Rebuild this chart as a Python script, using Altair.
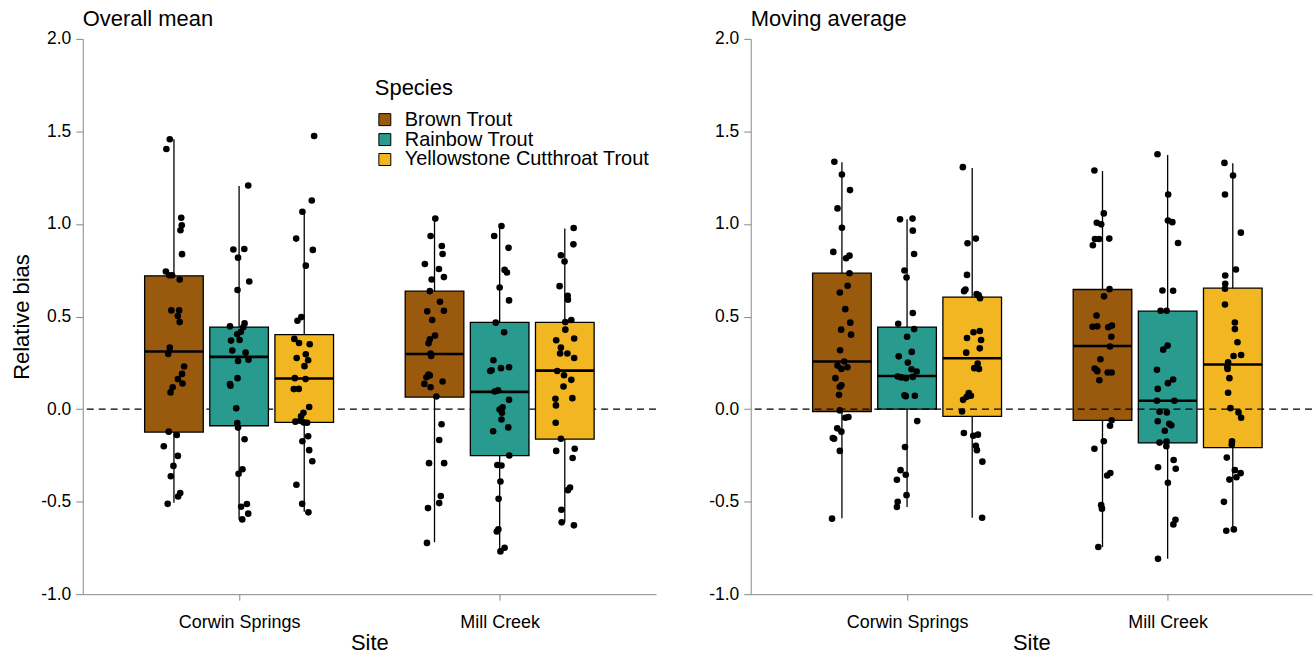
import altair as alt
import pandas as pd

sites = ["Corwin Springs", "Mill Creek"]
species = ["Brown Trout", "Rainbow Trout", "Yellowstone Cutthroat Trout"]
species_colors = ["#995A0D", "#289B8E", "#F2B622"]
panel_titles = ["Overall mean", "Moving average"]

# box statistics, order: panel -> site -> species
box_lower = [-0.506, -0.596, -0.555, -0.720, -0.769, -0.612,
             -0.590, -0.529, -0.587, -0.745, -0.809, -0.653]
box_q1 = [-0.124, -0.090, -0.072, 0.065, -0.251, -0.162,
          -0.013, 0.000, -0.039, -0.061, -0.183, -0.208]
box_median = [0.311, 0.282, 0.165, 0.298, 0.093, 0.208,
              0.257, 0.179, 0.275, 0.341, 0.045, 0.241]
box_q3 = [0.720, 0.443, 0.402, 0.637, 0.468, 0.468,
          0.734, 0.443, 0.605, 0.646, 0.529, 0.653]
box_upper = [1.458, 1.205, 1.059, 1.029, 0.989, 0.975,
             1.334, 1.025, 1.303, 1.286, 1.373, 1.328]

# individual relative-bias values and their horizontal jitter
om_cs_bt = [1.458, 1.405, 1.034, 0.993, 0.966, 0.837, 0.743, 0.723, 0.723, 0.700, 0.533, 0.533, 0.503, 0.470, 0.332, 0.298, 0.230, 0.190, 0.162, 0.138, 0.118, 0.090, -0.122, -0.140, -0.201, -0.253, -0.307, -0.363, -0.454, -0.472, -0.512]
om_cs_bt_j = [-0.016, -0.029, 0.028, 0.030, 0.025, 0.031, -0.031, -0.018, -0.007, 0.022, -0.010, 0.020, 0.015, 0.022, -0.016, -0.022, 0.039, 0.031, 0.015, 0.033, -0.005, -0.013, -0.020, 0.011, -0.039, 0.015, -0.002, -0.012, 0.024, 0.016, -0.024]
om_cs_rt = [1.208, 0.862, 0.865, 0.818, 0.689, 0.643, 0.447, 0.463, 0.442, 0.418, 0.404, 0.373, 0.370, 0.316, 0.305, 0.260, 0.267, 0.167, 0.135, 0.126, 0.004, -0.075, -0.100, -0.163, -0.325, -0.350, -0.513, -0.528, -0.565, -0.596]
om_cs_rt_j = [0.035, -0.022, 0.020, -0.004, 0.039, -0.006, -0.035, 0.021, 0.016, 0.007, -0.007, 0.002, -0.031, -0.026, 0.025, -0.004, 0.036, -0.006, -0.035, -0.033, -0.011, -0.007, -0.004, 0.021, 0.013, -0.002, 0.030, 0.008, 0.035, 0.012]
om_cs_yct = [1.475, 1.127, 1.066, 0.921, 0.860, 0.775, 0.497, 0.477, 0.379, 0.357, 0.350, 0.296, 0.276, 0.264, 0.232, 0.167, 0.162, 0.108, 0.109, 0.011, -0.020, -0.039, -0.068, -0.063, -0.072, -0.074, -0.147, -0.174, -0.222, -0.282, -0.409, -0.512, -0.558]
om_cs_yct_j = [0.038, 0.029, -0.007, -0.031, 0.033, 0.006, -0.011, -0.026, -0.038, -0.020, 0.021, 0.006, -0.029, 0.015, 0.001, -0.036, 0.005, -0.040, -0.021, 0.019, -0.003, -0.012, -0.034, -0.016, -0.002, 0.011, 0.015, -0.007, 0.019, 0.031, -0.030, -0.008, 0.016]
om_mc_bt = [1.029, 0.935, 0.881, 0.838, 0.784, 0.757, 0.713, 0.700, 0.637, 0.580, 0.528, 0.531, 0.481, 0.397, 0.377, 0.355, 0.300, 0.287, 0.187, 0.181, 0.172, 0.149, 0.136, 0.118, 0.068, -0.082, -0.167, -0.292, -0.292, -0.470, -0.508, -0.535, -0.723]
om_mc_bt_j = [0.003, -0.015, 0.028, 0.031, -0.037, 0.017, 0.036, -0.011, -0.018, 0.021, -0.028, 0.036, -0.009, 0.002, -0.018, -0.023, -0.015, -0.013, -0.023, -0.018, -0.031, 0.031, -0.039, -0.015, 0.007, 0.027, 0.018, -0.021, 0.037, 0.024, 0.018, -0.025, -0.029]
om_mc_rt = [0.989, 0.935, 0.871, 0.752, 0.738, 0.657, 0.587, 0.467, 0.415, 0.264, 0.210, 0.206, 0.221, 0.226, 0.095, 0.101, 0.050, 0.009, -0.002, -0.020, -0.056, -0.120, -0.099, -0.251, -0.302, -0.305, -0.391, -0.485, -0.650, -0.661, -0.749, -0.769]
om_mc_rt_j = [0.007, -0.021, 0.034, 0.019, 0.028, 0.000, 0.036, -0.015, 0.017, -0.024, -0.031, -0.036, 0.005, 0.036, -0.019, -0.006, 0.036, 0.011, 0.000, 0.009, 0.007, -0.025, 0.033, 0.037, -0.009, 0.007, 0.003, -0.004, -0.005, -0.011, 0.019, 0.003]
om_mc_yct = [0.978, 0.890, 0.831, 0.797, 0.664, 0.612, 0.591, 0.481, 0.470, 0.429, 0.372, 0.381, 0.332, 0.300, 0.300, 0.276, 0.206, 0.183, 0.158, 0.122, 0.056, 0.059, 0.020, -0.074, -0.160, -0.226, -0.214, -0.264, -0.424, -0.438, -0.544, -0.612, -0.628]
om_mc_yct_j = [0.034, 0.033, -0.015, -0.001, -0.020, 0.011, 0.012, 0.025, 0.002, 0.002, -0.033, 0.036, -0.015, -0.018, 0.010, 0.036, -0.029, -0.003, 0.025, -0.005, -0.036, 0.029, -0.034, -0.035, -0.015, -0.033, 0.038, 0.030, 0.020, 0.012, -0.013, -0.012, 0.035]
ma_cs_bt = [1.336, 1.267, 1.183, 1.084, 0.980, 0.849, 0.815, 0.829, 0.734, 0.666, 0.630, 0.540, 0.467, 0.429, 0.402, 0.318, 0.257, 0.235, 0.226, 0.217, 0.167, 0.129, 0.120, 0.077, -0.007, -0.043, -0.047, -0.104, -0.122, -0.156, -0.160, -0.226, -0.592]
ma_cs_bt_j = [-0.029, 0.000, 0.031, -0.017, 0.000, -0.033, 0.016, 0.029, 0.029, 0.022, -0.008, 0.013, 0.032, -0.003, 0.035, -0.007, 0.009, -0.017, 0.021, -0.002, -0.025, -0.002, -0.008, -0.011, -0.008, 0.025, 0.013, -0.018, -0.002, -0.035, -0.030, -0.008, -0.038]
ma_cs_rt = [1.025, 1.029, 0.964, 0.838, 0.749, 0.711, 0.519, 0.461, 0.432, 0.391, 0.309, 0.285, 0.251, 0.215, 0.203, 0.176, 0.171, 0.174, 0.167, 0.075, 0.070, 0.072, -0.065, -0.205, -0.330, -0.355, -0.382, -0.465, -0.501, -0.529]
ma_cs_rt_j = [-0.027, 0.021, 0.022, 0.027, -0.010, -0.002, 0.022, -0.034, 0.027, 0.000, 0.018, -0.032, 0.003, 0.017, 0.037, -0.036, -0.022, 0.022, -0.004, -0.010, -0.005, 0.030, 0.039, -0.008, -0.025, -0.005, -0.039, -0.002, -0.036, -0.039]
ma_cs_yct = [1.307, 0.921, 0.896, 0.725, 0.637, 0.646, 0.621, 0.614, 0.599, 0.415, 0.422, 0.384, 0.373, 0.328, 0.305, 0.246, 0.221, 0.217, 0.086, 0.072, 0.066, 0.050, -0.013, -0.129, -0.138, -0.144, -0.198, -0.222, -0.284, -0.587]
ma_cs_yct_j = [-0.036, 0.014, -0.018, -0.020, -0.031, -0.026, 0.017, 0.025, 0.030, 0.005, 0.029, -0.020, 0.034, 0.029, -0.023, 0.021, 0.008, 0.026, -0.013, -0.005, -0.021, -0.035, -0.039, -0.032, 0.022, 0.004, 0.014, 0.018, 0.039, 0.038]
ma_mc_bt = [1.289, 1.057, 1.007, 0.998, 0.919, 0.919, 0.921, 0.885, 0.648, 0.609, 0.505, 0.445, 0.447, 0.442, 0.451, 0.391, 0.338, 0.269, 0.219, 0.210, 0.205, 0.198, 0.198, 0.156, -0.061, -0.090, -0.174, -0.214, -0.359, -0.345, -0.519, -0.538, -0.745]
ma_mc_bt_j = [-0.031, 0.005, -0.022, -0.005, -0.029, -0.013, 0.026, -0.037, 0.027, 0.006, -0.023, -0.038, -0.020, 0.022, 0.036, 0.034, 0.029, -0.008, -0.030, -0.022, -0.020, 0.020, 0.035, -0.012, 0.035, 0.029, 0.005, -0.031, 0.018, 0.030, -0.005, -0.002, -0.016]
ma_mc_rt = [1.377, 1.159, 1.019, 1.010, 0.897, 0.641, 0.639, 0.531, 0.531, 0.321, 0.343, 0.212, 0.140, 0.160, 0.109, 0.045, 0.045, -0.014, -0.018, -0.066, -0.079, -0.088, -0.117, -0.181, -0.176, -0.201, -0.275, -0.314, -0.322, -0.398, -0.598, -0.623, -0.809]
ma_mc_rt_j = [-0.039, 0.002, 0.001, 0.018, 0.040, -0.020, 0.021, -0.027, -0.004, -0.017, 0.000, -0.041, 0.001, 0.021, -0.038, -0.041, 0.026, -0.031, -0.003, -0.038, 0.006, 0.014, -0.011, -0.031, -0.004, -0.005, 0.023, -0.037, 0.031, 0.001, 0.030, 0.022, -0.037]
ma_mc_yct = [1.330, 1.262, 1.159, 0.953, 0.754, 0.722, 0.677, 0.650, 0.565, 0.468, 0.432, 0.361, 0.287, 0.292, 0.253, 0.228, 0.217, 0.167, 0.088, 0.005, -0.018, -0.047, -0.174, -0.192, -0.262, -0.330, -0.346, -0.368, -0.381, -0.501, -0.650, -0.657]
ma_mc_yct_j = [-0.032, 0.001, -0.030, 0.031, 0.012, -0.029, -0.029, -0.030, -0.030, 0.008, 0.008, 0.018, 0.003, 0.032, -0.018, -0.021, -0.020, -0.013, -0.018, -0.009, 0.022, 0.032, -0.003, -0.004, -0.023, 0.008, 0.030, 0.014, -0.013, -0.034, 0.004, -0.025]

point_sets = [
    (om_cs_bt, om_cs_bt_j), (om_cs_rt, om_cs_rt_j), (om_cs_yct, om_cs_yct_j),
    (om_mc_bt, om_mc_bt_j), (om_mc_rt, om_mc_rt_j), (om_mc_yct, om_mc_yct_j),
    (ma_cs_bt, ma_cs_bt_j), (ma_cs_rt, ma_cs_rt_j), (ma_cs_yct, ma_cs_yct_j),
    (ma_mc_bt, ma_mc_bt_j), (ma_mc_rt, ma_mc_rt_j), (ma_mc_yct, ma_mc_yct_j),
]

DODGE = 0.25
HALF_BOX = 0.1125

box_rows, pt_rows = [], []
i = 0
for p in panel_titles:
    for si, s in enumerate(sites):
        for ki, sp in enumerate(species):
            center = (si + 1) + (ki - 1) * DODGE
            box_rows.append(dict(panel=p, site=s, species=sp, xc=center,
                                 x1=center - HALF_BOX, x2=center + HALF_BOX,
                                 lo=box_lower[i], q1=box_q1[i], med=box_median[i],
                                 q3=box_q3[i], hi=box_upper[i]))
            vals, jits = point_sets[i]
            for v, j in zip(vals, jits):
                pt_rows.append(dict(panel=p, species=sp, x=center + j, y=v))
            i += 1

box_df = pd.DataFrame(box_rows)
pt_df = pd.DataFrame(pt_rows)
zero_df = pd.DataFrame({"y": [0.0]})

FONT = "Liberation Sans"
LABEL_EXPR_Y = "replace(format(datum.value, '.1f'), '\u2212', '-')"
NO_FRAME = alt.ViewBackground(stroke="transparent", strokeWidth=0)


def make_panel(pname, left):
    bx = box_df[box_df.panel == pname]
    pt = pt_df[pt_df.panel == pname]
    dom = [0.4, 2.6] if left else [0.4, 2.554]
    xs = alt.Scale(domain=dom, nice=False, zero=False)
    ys = alt.Scale(domain=[-1, 2], nice=False, zero=False)
    xaxis = alt.Axis(values=[1, 2], title="Site",
                     labelExpr="datum.value == 1 ? 'Corwin Springs' : 'Mill Creek'",
                     grid=False, tickSize=6, labelPadding=13, titlePadding=1,
                     labelFontSize=18, titleFontSize=22, titleFontWeight="normal",
                     titleFont=FONT, labelFont=FONT)
    yaxis = alt.Axis(values=[-1, -0.5, 0, 0.5, 1, 1.5, 2], title="Relative bias" if left else "",
                     labelExpr=LABEL_EXPR_Y, grid=False, tickSize=7, labelPadding=5,
                     titlePadding=7, labelFontSize=17.5, titleFontSize=22,
                     titleFontWeight="normal", titleFont=FONT, labelFont=FONT)

    whisk = alt.Chart(bx).mark_rule(color="black", strokeWidth=1.3).encode(
        x=alt.X("xc:Q", scale=xs, axis=xaxis),
        y=alt.Y("lo:Q", scale=ys, axis=yaxis), y2="hi:Q")

    if left:
        legend = alt.Legend(orient="none", legendX=293, legendY=39, title="Species",
                            titleFontSize=22, titleFont=FONT, titleFontWeight="normal",
                            titleColor="black", titlePadding=10, labelFontSize=20,
                            labelFont=FONT, labelColor="black", labelLimit=500,
                            symbolType="square",
                            symbolSize=144, symbolStrokeColor="black", symbolStrokeWidth=1,
                            symbolOpacity=1, rowPadding=-1, labelOffset=10, padding=0)
    else:
        legend = None
    boxes = alt.Chart(bx).mark_rect(stroke="black", strokeWidth=1.3, opacity=1).encode(
        x=alt.X("x1:Q", scale=xs, axis=xaxis), x2="x2:Q",
        y=alt.Y("q1:Q", scale=ys, axis=yaxis), y2="q3:Q",
        fill=alt.Fill("species:N", scale=alt.Scale(domain=species, range=species_colors),
                      legend=legend))
    med = alt.Chart(bx).mark_rule(color="black", strokeWidth=2.6).encode(
        x=alt.X("x1:Q", scale=xs, axis=xaxis), x2="x2:Q",
        y=alt.Y("med:Q", scale=ys, axis=yaxis))
    pts = alt.Chart(pt).mark_circle(color="black", size=44, opacity=1).encode(
        x=alt.X("x:Q", scale=xs, axis=xaxis),
        y=alt.Y("y:Q", scale=ys, axis=yaxis))
    zero = alt.Chart(zero_df).mark_rule(color="black", strokeWidth=1.3, strokeDash=[7, 5]).encode(
        y=alt.Y("y:Q", scale=ys, axis=yaxis))

    if left:
        layers = [zero, whisk, boxes, med, pts]
    else:
        layers = [whisk, boxes, med, pts, zero]
    return alt.layer(*layers).properties(
        width=575 if left else 563, height=557, view=NO_FRAME,
        title=alt.TitleParams(text=pname, anchor="start", frame="group", fontSize=22,
                              font=FONT, fontWeight="normal", color="black", offset=-1))


chart = alt.hconcat(make_panel(panel_titles[0], True), make_panel(panel_titles[1], False),
                    spacing=95, bounds="flush").resolve_scale(fill="independent").properties(
    padding={"left": 10, "top": 7, "right": 1, "bottom": 0}
).configure_view(stroke="transparent", strokeWidth=0).configure_axis(
    domainColor="black", domainWidth=1.3, tickColor="black", tickWidth=1.3,
    labelColor="black", titleColor="black", labelFont=FONT, titleFont=FONT,
    titleFontWeight="normal"
).configure(background="white")

chart.save("out.html", embed_options={"renderer": "svg", "actions": False})
